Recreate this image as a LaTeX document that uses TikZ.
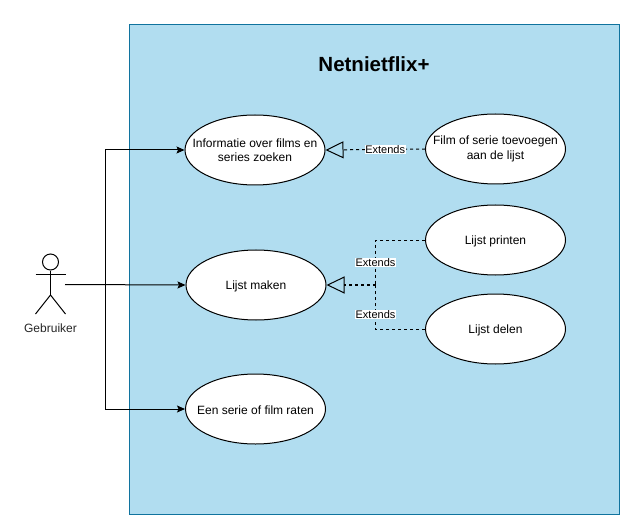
\documentclass[tikz,border=0pt]{standalone}
\usepackage{fontspec}
\setmainfont{Liberation Sans}
\usetikzlibrary{arrows.meta,shapes.geometric}
\definecolor{sysfill}{HTML}{B1DDF0}
\definecolor{sysline}{HTML}{10739E}
\newcommand{\onedown}[1]{\raisebox{-1bp}[\height][\depth]{#1}}
\begin{document}
\begin{tikzpicture}[x=1bp,y=-1bp,line width=1bp,
  usecase/.style={draw=black,fill=white,ellipse,minimum width=140bp,minimum height=70bp,inner xsep=-40bp,inner ysep=-10bp,align=center,font=\fontsize{12bp}{14.5bp}\selectfont},
  assoc/.style={-{Stealth[length=8bp,width=7bp,inset=1.5bp]}},
  opentip/.style={-{Triangle[open,length=18bp,width=17bp,line width=1bp]}},
  extend/.style={dash pattern=on 3bp off 3bp},
  extlabel/.style={fill=white,inner xsep=0.5bp,inner ysep=0.5bp,font=\fontsize{11bp}{12bp}\selectfont},
  limb/.style={draw=black,line width=1bp}]
\useasboundingbox (0,0) rectangle (636,532);
\fill[white] (0,0) rectangle (636,532);
\node[draw=sysline,fill=sysfill,line width=1bp,minimum width=490bp,minimum height=490bp,inner sep=0pt] (system) at (374.5,269.5) {};
\node[font=\fontsize{20.5bp}{24bp}\selectfont\bfseries] (title) at (374,64) {Netnietflix+};

\node[usecase] (zoeken) at (255,150) {Informatie over films en\\series zoeken};
\node[usecase] (maken) at (256,285) {\onedown{Lijst maken}};
\node[usecase] (raten) at (255.5,409) {\onedown{Een serie of film raten}};
\node[usecase] (toevoegen) at (495.5,149) {Film of serie toevoegen\\aan de lijst};
\node[usecase] (printen) at (495.5,240) {\onedown{Lijst printen}};
\node[usecase] (delen) at (495.5,329) {\onedown{Lijst delen}};

% actor
\node[draw=black,circle,minimum size=16bp,inner sep=0pt,fill=white] (head) at (50.5,262) {};
\coordinate (hip) at (50.5,295);
\coordinate (armL) at (35.5,274);
\coordinate (armR) at (65.5,274);
\coordinate (legL) at (35.5,314);
\coordinate (legR) at (65.5,314);
\draw[limb] (head.south) -- (hip);
\draw[limb] (armL) -- (armR);
\draw[limb] (legL) -- (hip) -- (legR);
\node[font=\fontsize{12bp}{14bp}\selectfont,text=black!85] (gebruiker) at (50.5,328) {Gebruiker};

% associations
\coordinate (actor) at (65,284.5);
\coordinate (trunk) at (105.5,284.5);
\draw[assoc] (actor) -- (maken.west);
\draw[assoc] (trunk) |- (zoeken.west);
\draw[assoc] (trunk) |- (raten.west);

% extends
\coordinate (joint) at (375.5,285);
\draw[extend,opentip] (toevoegen.west) -- (zoeken.east)
  node[extlabel,pos=0.4] (lab1) {Extends};
\draw[extend] (printen.west) -| (joint);
\draw[extend] (delen.west) -| (joint);
\draw[extend,opentip,line width=1.5bp] (joint) -- (maken.east);
\node[extlabel] (lab2) at (375.5,262.3) {Extends};
\node[extlabel] (lab3) at (375.5,314.3) {Extends};
\end{tikzpicture}
\end{document}
